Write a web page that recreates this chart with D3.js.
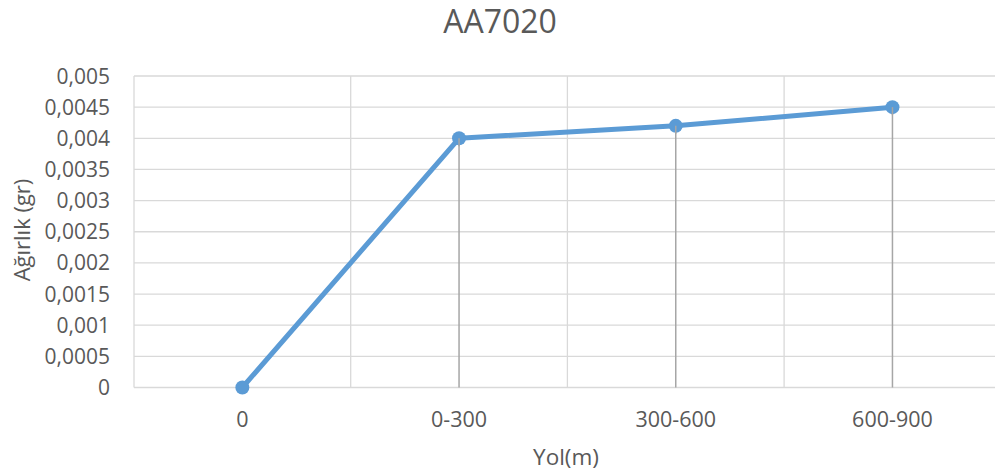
<!DOCTYPE html>
<html>
<head>
<meta charset="utf-8">
<script src="https://cdn.jsdelivr.net/npm/d3@7"></script>
<style>
  html, body { margin: 0; padding: 0; background: #fff; }
  svg { display: block; font-family: "Open Sans", "Noto Sans", sans-serif; }
</style>
</head>
<body>
<svg id="chart" width="995" height="476"></svg>
<script>
// Wear mass per sliding distance interval
const categories = ["0", "0-300", "300-600", "600-900"];
const weights = [0, 0.004, 0.0042, 0.0045];
const yTicks = [0, 0.0005, 0.001, 0.0015, 0.002, 0.0025, 0.003, 0.0035, 0.004, 0.0045, 0.005];
const titleText = "AA7020";
const xTitle = "Yol(m)";
const yTitle = "Ağırlık (gr)";

const svg = d3.select("#chart");
const margin = { left: 134, top: 76, bottom: 387.5 };
const bandW = 216.7;
const right = margin.left + bandW * categories.length;

const x = d3.scaleBand().domain(categories).range([margin.left, right]).padding(0);
const y = d3.scaleLinear().domain([0, 0.005]).range([margin.bottom, margin.top]);

const textColor = "#595959";
const gridColor = "#d9d9d9";

// Horizontal grid lines
svg.append("g").selectAll("line").data(yTicks).join("line")
  .attr("x1", margin.left).attr("x2", right)
  .attr("y1", d => y(d)).attr("y2", d => y(d))
  .attr("stroke", gridColor).attr("stroke-width", 1.3);

// Vertical grid lines at category boundaries
const bounds = categories.map(c => x(c)).concat([right]);
svg.append("g").selectAll("line").data(bounds).join("line")
  .attr("x1", d => d).attr("x2", d => d)
  .attr("y1", margin.top).attr("y2", margin.bottom)
  .attr("stroke", gridColor).attr("stroke-width", 1.3);

// Y tick labels (decimal comma)
const fmt = d => String(+d.toFixed(4)).replace(".", ",");
svg.append("g").selectAll("text").data(yTicks).join("text")
  .attr("x", 110).attr("y", d => y(d))
  .attr("dy", "0.36em")
  .attr("text-anchor", "end")
  .attr("font-size", 21)
  .attr("fill", textColor)
  .text(fmt);

// X category labels
const cx = c => x(c) + x.bandwidth() / 2;
svg.append("g").selectAll("text").data(categories).join("text")
  .attr("x", cx).attr("y", 426.5)
  .attr("text-anchor", "middle")
  .attr("font-size", 21.5)
  .attr("fill", textColor)
  .text(d => d);

// Drop lines from each point to the baseline
const pts = categories.map((c, i) => ({ c, v: weights[i] }));
svg.append("g").selectAll("line").data(pts.filter(p => p.v > 0)).join("line")
  .attr("x1", p => cx(p.c)).attr("x2", p => cx(p.c))
  .attr("y1", p => y(p.v)).attr("y2", y(0))
  .attr("stroke", "#a6a6a6").attr("stroke-width", 1.5);

// Series line
const line = d3.line().x(p => cx(p.c)).y(p => y(p.v));
svg.append("path").datum(pts)
  .attr("d", line)
  .attr("fill", "none")
  .attr("stroke", "#5b9bd5")
  .attr("stroke-width", 5)
  .attr("stroke-linejoin", "round");

// Markers
svg.append("g").selectAll("circle").data(pts).join("circle")
  .attr("cx", p => cx(p.c)).attr("cy", p => y(p.v))
  .attr("r", 7)
  .attr("fill", "#5b9bd5");

// Drop lines continue over the markers
svg.append("g").selectAll("line").data(pts.filter(p => p.v > 0)).join("line")
  .attr("x1", p => cx(p.c)).attr("x2", p => cx(p.c))
  .attr("y1", p => y(p.v)).attr("y2", p => y(p.v) + 8)
  .attr("stroke", "#a6a6a6").attr("stroke-width", 1.5);

// Chart title
svg.append("text")
  .attr("x", 500).attr("y", 33)
  .attr("text-anchor", "middle")
  .attr("font-size", 32)
  .attr("fill", textColor)
  .text(titleText);

// Axis titles
svg.append("text")
  .attr("x", 566).attr("y", 465)
  .attr("text-anchor", "middle")
  .attr("font-size", 22.5)
  .attr("fill", textColor)
  .text(xTitle);

svg.append("text")
  .attr("transform", "translate(30,230) rotate(-90)")
  .attr("text-anchor", "middle")
  .attr("font-size", 22)
  .attr("fill", textColor)
  .text(yTitle);
</script>
</body>
</html>
